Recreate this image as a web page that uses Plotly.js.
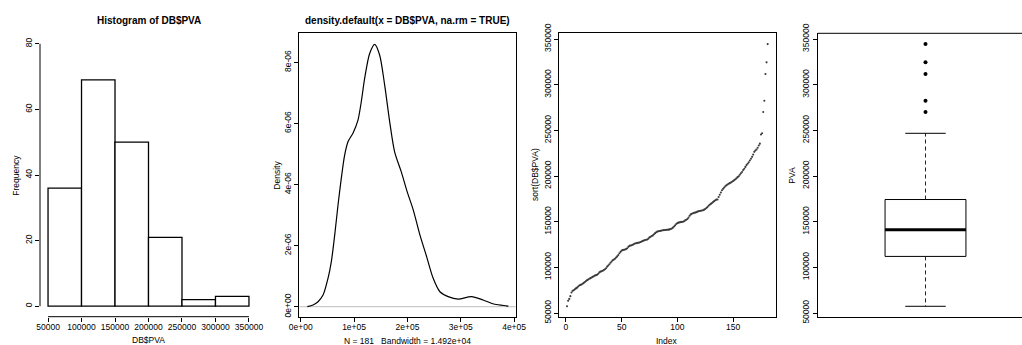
<!DOCTYPE html>
<html><head><meta charset="utf-8">
<script src="https://cdn.plot.ly/plotly-3.0.1.min.js"></script>
<style>html,body{margin:0;padding:0;background:#fff}#chart{width:1022px;height:345px}</style>
</head><body><div id="chart"></div>
<script>
// ---------------- DATA ----------------
const binEdges = [50000, 100000, 150000, 200000, 250000, 300000, 350000];
const binCounts = [36, 69, 50, 21, 2, 3];

const densityX = [12400, 23000, 32400, 41800, 51100, 57300, 63700, 69900, 76000, 82400, 88600, 97900,
  107300, 113500, 119900, 129200, 138600, 147900, 157300, 166700, 176000, 188400, 199600, 210900,
  223400, 236000, 248300, 260900, 276400, 295100, 320200, 341900, 363900, 385800, 389300];
const densityY = [0.004e-6, 0.056e-6, 0.164e-6, 0.383e-6, 0.93e-6, 1.47e-6, 2.35e-6, 3.33e-6, 4.20e-6,
  4.97e-6, 5.40e-6, 5.68e-6, 6.11e-6, 6.71e-6, 7.48e-6, 8.29e-6, 8.59e-6, 8.24e-6, 7.26e-6, 6.06e-6,
  5.07e-6, 4.42e-6, 3.76e-6, 3.17e-6, 2.35e-6, 1.64e-6, 0.93e-6, 0.49e-6, 0.33e-6, 0.25e-6, 0.33e-6,
  0.22e-6, 0.08e-6, 0.03e-6, 0.02e-6];

const sortedPVA = [
  57400, 63500, 65500, 68500, 72500, 74300, 75000, 76000, 77000, 77800,
  79000, 80200, 80800, 81200, 82000, 83000, 84000, 85000, 86000, 86800,
  87500, 88200, 89000, 89600, 90300, 91000, 91500, 92000, 93000, 94500,
  95300, 95800, 96300, 97000, 98000, 99000, 100800, 102000, 103500, 105000,
  106500, 107800, 108500, 109500, 110800, 112000, 113500, 115500, 117000, 118300,
  119000, 119200, 119500, 120000, 121000, 122500, 123500, 124000, 124300, 124800,
  125500, 126200, 126500, 126800, 127000, 127300, 127800, 128300, 129000, 129500,
  130000, 130300, 130500, 131500, 132800, 133500, 134300, 135000, 136200, 137500,
  138500, 139200, 139600, 139800, 140000, 140300, 140600, 140800, 141000, 141100,
  141200, 141300, 141600, 142000, 142500, 143500, 144800, 146000, 147500, 148500,
  149000, 149300, 149600, 149800, 149900, 150500, 151500, 152200, 153000, 154500,
  156500, 158000, 158800, 159300, 159700, 160000, 160500, 161000, 161500, 161800,
  162000, 162300, 162600, 163200, 164000, 165000, 166000, 167500, 168600, 169500,
  170500, 171500, 172500, 173500, 174200, 174300, 177000, 179500, 182000, 184500,
  186000, 187500, 188800, 190000, 190800, 191500, 192200, 193000, 193800, 194500,
  195500, 196500, 197500, 198800, 199700, 201500, 203000, 204500, 206500, 208000,
  210000, 212000, 213500, 215000, 217000, 219000, 221000, 223500, 226500, 228000,
  229000, 231000, 233500, 235500, 245500, 246800, 270100, 282400, 311700, 324500,
  344500];

const histXTicks = [50000, 100000, 150000, 200000, 250000, 300000, 350000];
const histXText = ['50000', '100000', '150000', '200000', '250000', '300000', '350000'];
const histYTicks = [0, 20, 40, 60, 80];
const histYText = ['0', '20', '40', '60', '80'];
const densXTicks = [0, 100000, 200000, 300000, 400000];
const densXText = ['0e+00', '1e+05', '2e+05', '3e+05', '4e+05'];
const densYTicks = [0, 2e-6, 4e-6, 6e-6, 8e-6];
const densYText = ['0e+00', '2e-06', '4e-06', '6e-06', '8e-06'];
const idxXTicks = [0, 50, 100, 150];
const idxXText = ['0', '50', '100', '150'];
const valTicks = [50000, 100000, 150000, 200000, 250000, 300000, 350000];
const valText = ['50000', '100000', '150000', '200000', '250000', '300000', '350000'];

const titles = ['Histogram of DB$PVA', 'density.default(x = DB$PVA, na.rm = TRUE)'];
const densSub = 'N = 181   Bandwidth = 1.492e+04';

// ---------------- LAYOUT HELPERS ----------------
const W = 1022, H = 345;
const px = v => v / W;
const py = v => 1 - v / H;
const FONT = 'Liberation Sans, Arial, Helvetica, sans-serif';
const yDom = [py(316.7), py(33.3)];

const centers = binCounts.map((_, i) => (binEdges[i] + binEdges[i + 1]) / 2);
const widths = binCounts.map((_, i) => binEdges[i + 1] - binEdges[i]);
const idx = sortedPVA.map((_, i) => i + 1);

// box statistics (Tukey hinges) from the sorted data
const n = sortedPVA.length;
const med = sortedPVA[(n - 1) / 2];
const q1 = sortedPVA[Math.floor((n + 1) / 2 / 2 + 0.5) - 1];
const q3 = sortedPVA[n - Math.floor((n + 1) / 2 / 2 + 0.5)];
const iqr = q3 - q1;
const inside = sortedPVA.filter(v => v >= q1 - 1.5 * iqr && v <= q3 + 1.5 * iqr);
const loW = Math.min(...inside), hiW = Math.max(...inside);
const outl = sortedPVA.filter(v => v < loW || v > hiW);
const bc = 1, bh = 0.4, sh = 0.2;

const traces = [
  {type: 'bar', x: centers, y: binCounts, width: widths, xaxis: 'x', yaxis: 'y',
   marker: {color: 'white', line: {color: 'black', width: 1.3}}, hoverinfo: 'none'},
  {type: 'scatter', mode: 'lines', x: densityX, y: densityY, xaxis: 'x2', yaxis: 'y2',
   line: {color: 'black', width: 1.2, shape: 'spline', smoothing: 0.8}, hoverinfo: 'none'},
  {type: 'scatter', mode: 'markers', x: idx, y: sortedPVA, xaxis: 'x3', yaxis: 'y3',
   marker: {color: '#3a3a3a', size: 2.1}, hoverinfo: 'none'},
  {type: 'scatter', mode: 'lines', x: [bc - bh, bc + bh, bc + bh, bc - bh, bc - bh], y: [q1, q1, q3, q3, q1],
   xaxis: 'x4', yaxis: 'y4', line: {color: 'black', width: 1}, hoverinfo: 'none'},
  {type: 'scatter', mode: 'lines', x: [bc, bc, null, bc, bc], y: [q3, hiW, null, q1, loW],
   xaxis: 'x4', yaxis: 'y4', line: {color: '#222', width: 1, dash: '4px,3px'}, hoverinfo: 'none'},
  {type: 'scatter', mode: 'lines', x: [bc - sh, bc + sh, null, bc - sh, bc + sh], y: [hiW, hiW, null, loW, loW],
   xaxis: 'x4', yaxis: 'y4', line: {color: 'black', width: 1}, hoverinfo: 'none'},
  {type: 'scatter', mode: 'lines', x: [bc - bh, bc + bh], y: [med, med],
   xaxis: 'x4', yaxis: 'y4', line: {color: 'black', width: 3}, hoverinfo: 'none'},
  {type: 'scatter', mode: 'markers', x: outl.map(() => bc), y: outl,
   xaxis: 'x4', yaxis: 'y4', marker: {color: 'black', size: 4}, hoverinfo: 'none'}
];

const tickFont = {family: FONT, size: 8.5, color: '#000'};
function xa(domain, range, tv, tt, anchor, line, mirror) {
  return {domain, range, anchor, tickmode: 'array', tickvals: tv, ticktext: tt, ticks: tv.length ? 'outside' : '',
    ticklen: 4, tickwidth: 1, tickcolor: '#000', showticklabels: tv.length > 0, tickfont: tickFont,
    ticklabelstandoff: -2,
    showgrid: false, zeroline: false, showline: line, mirror: mirror, linecolor: '#000', linewidth: 1, fixedrange: true};
}
function ya(domain, range, tv, tt, anchor, line, mirror) {
  const a = xa(domain, range, tv, tt, anchor, line, mirror);
  a.tickangle = -90;
  a.ticklabelstandoff = 0;
  return a;
}

const ann = (text, x, y, opts = {}) => Object.assign({text, x: px(x), y: py(y), xref: 'paper', yref: 'paper',
  showarrow: false, xanchor: 'center', yanchor: 'middle', font: {family: FONT, size: 8.5, color: '#000'}}, opts);

const layout = {
  width: W, height: H, margin: {l: 0, r: 0, t: 0, b: 0}, paper_bgcolor: 'white', plot_bgcolor: 'white',
  showlegend: false, font: {family: FONT, color: '#000'},
  xaxis: xa([px(40), px(257)], [38000, 362000], histXTicks, histXText, 'y', false, false),
  yaxis: ya(yDom, [-3.2, 83.2], histYTicks, histYText, 'x', false, false),
  xaxis2: xa([px(299.3), px(515.7)], [-2700, 403000], densXTicks, densXText, 'y2', true, true),
  yaxis2: ya(yDom, [-0.327e-6, 8.95e-6], densYTicks, densYText, 'x2', true, true),
  xaxis3: xa([px(559), px(775.7)], [-6.2, 188.2], idxXTicks, idxXText, 'y3', true, true),
  yaxis3: ya(yDom, [46000, 356300], valTicks, valText, 'x3', true, true),
  xaxis4: xa([px(817.7), 1], [-0.0663, 1.9545], [], [], 'y4', true, false),
  yaxis4: ya(yDom, [46000, 356300], valTicks, valText, 'x4', true, false),
  shapes: [
    {type: 'line', xref: 'x', yref: 'y domain', x0: histXTicks[0], x1: histXTicks[histXTicks.length - 1], y0: 0, y1: 0,
     line: {color: '#000', width: 1}},
    {type: 'line', xref: 'x domain', yref: 'y', x0: 0, x1: 0, y0: histYTicks[0], y1: histYTicks[histYTicks.length - 1],
     line: {color: '#000', width: 1}},
    {type: 'line', xref: 'x2 domain', yref: 'y2', x0: 0, x1: 1, y0: 0, y1: 0, line: {color: '#bebebe', width: 1}, layer: 'below'},
    {type: 'line', xref: 'x4 domain', yref: 'y4 domain', x0: 0, x1: 1, y0: 1, y1: 1, line: {color: '#000', width: 1}}
  ],
  annotations: [
    ann(titles[0], 148.5, 21, {font: {family: FONT, size: 10, color: '#000', weight: 'bold'}}),
    ann(titles[1], 407.5, 21, {font: {family: FONT, size: 10, color: '#000', weight: 'bold'}}),
    ann('Frequency', 15.7, 175, {textangle: -90}),
    ann('DB$PVA', 148.5, 340),
    ann('Density', 276.7, 175, {textangle: -90}),
    ann(densSub, 407.5, 341),
    ann('sort(DB$PVA)', 535, 175, {textangle: -90}),
    ann('Index', 667.3, 341),
    ann('PVA', 791.7, 175, {textangle: -90})
  ]
};

Plotly.newPlot('chart', traces, layout, {staticPlot: true, displayModeBar: false});
</script></body></html>
